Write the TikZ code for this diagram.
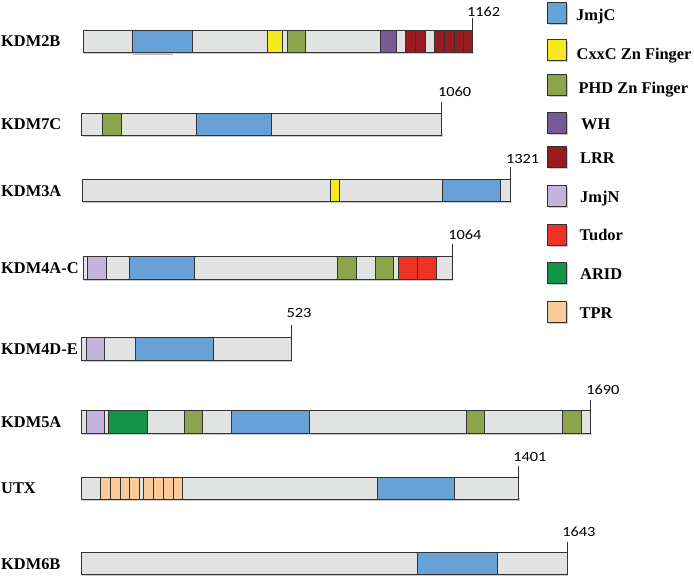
\documentclass[tikz,border=0pt]{standalone}
\usepackage{fontspec}
\setmainfont{Liberation Serif}
\newfontfamily\numfont{Carlito}[FakeStretch=1.17]
\definecolor{edge}{HTML}{333333}
\definecolor{barfill}{HTML}{E1E3E3}
\definecolor{cJmjC}{HTML}{67A1D8}
\definecolor{cCxxC}{HTML}{F4EA1F}
\definecolor{cPHD}{HTML}{8CA54C}
\definecolor{cWH}{HTML}{775B97}
\definecolor{cLRR}{HTML}{991B20}
\definecolor{cJmjN}{HTML}{C2B4DA}
\definecolor{cTudor}{HTML}{EE3225}
\definecolor{cARID}{HTML}{119449}
\definecolor{cTPR}{HTML}{FBCA9A}
\newcommand\pbar[4]{\def\btop{#3}\def\bbot{#4}%
  \fill[black!20] (#1+1,#4-1) rectangle (#2+1.2,#4+1.6);
  \draw[protbar] (#1,#3) rectangle (#2,#4);}
\newcommand\pdom[3]{\draw[seg,fill=#1] (#2,\btop) rectangle (#3,\bbot);}
\begin{document}
\begin{tikzpicture}[x=1pt,y=-1pt,
  seg/.style={draw=edge,line width=0.9pt},
  protbar/.style={seg,fill=barfill},
  protname/.style={font=\bfseries\fontsize{16.4}{18}\selectfont,anchor=base west,inner sep=0pt},
  legtext/.style={font=\bfseries\fontsize{16.4}{18}\selectfont,anchor=base west,inner sep=0pt},
  lenlabel/.style={font=\numfont\fontsize{14}{16}\selectfont,anchor=base west,inner sep=0pt},
  tickline/.style={draw=edge,line width=0.9pt},
  legbox/.style={draw=edge,line width=0.9pt}
]
\useasboundingbox[fill=white] (0,0) rectangle (694,581);

% ---------- KDM2B ----------
\node[protname] (n1) at (1,46.8) {KDM2B};
\draw[black!30,line width=1pt] (133,54.2) -- (173,54.2);
\pbar{83.3}{472.7}{30}{52.7}
\pdom{cJmjC}{132.7}{192}
\pdom{cCxxC}{267.7}{282.3}
\pdom{cPHD}{287.3}{305}
\pdom{cWH}{380.3}{396}
\pdom{cLRR}{405}{415.7}
\pdom{cLRR}{415.7}{425.7}
\pdom{cLRR}{434}{444}
\pdom{cLRR}{444}{454}
\pdom{cLRR}{454}{463.3}
\pdom{cLRR}{463.3}{472.7}
\coordinate (t1) at (472.7,18.3);
\coordinate (e1) at (472.7,30);
\draw[tickline] (t1) -- (e1);
\node[lenlabel] (l1) at (466.8,16) {1162};

% ---------- KDM7C ----------
\node[protname] (n2) at (1,129.6) {KDM7C};
\pbar{81.7}{441.7}{113.3}{135}
\pdom{cPHD}{102.3}{121.3}
\pdom{cJmjC}{196.3}{271}
\coordinate (t2) at (441.7,101.7);
\coordinate (e2) at (441.7,113.3);
\draw[tickline] (t2) -- (e2);
\node[lenlabel] (l2) at (437.8,96) {1060};

% ---------- KDM3A ----------
\node[protname] (n3) at (1,196.4) {KDM3A};
\pbar{82.3}{510.7}{179}{201.7}
\pdom{cCxxC}{330}{339.3}
\pdom{cJmjC}{442}{500.7}
\coordinate (t3) at (510.7,167.3);
\coordinate (e3) at (510.7,179);
\draw[tickline] (t3) -- (e3);
\node[lenlabel] (l3) at (505.8,163.3) {1321};

% ---------- KDM4A-C ----------
\node[protname] (n4) at (1,273.6) {KDM4A-C};
\pbar{83.3}{452}{256.7}{279}
\pdom{cJmjN}{87.3}{106.7}
\pdom{cJmjC}{129.3}{194.3}
\pdom{cPHD}{337.3}{356.3}
\pdom{cPHD}{375.3}{393.7}
\pdom{cTudor}{398.3}{417.3}
\pdom{cTudor}{417.3}{436}
\coordinate (t4) at (452,244.3);
\coordinate (e4) at (452,256.7);
\draw[tickline] (t4) -- (e4);
\node[lenlabel] (l4) at (448.1,239.3) {1064};

% ---------- KDM4D-E ----------
\node[protname] (n5) at (1,354.6) {KDM4D-E};
\pbar{81.7}{291}{337.7}{360.3}
\pdom{cJmjN}{86}{104.3}
\pdom{cJmjC}{135.3}{213.3}
\coordinate (t5) at (291,325);
\coordinate (e5) at (291,337.7);
\draw[tickline] (t5) -- (e5);
\node[lenlabel] (l5) at (286.4,317.3) {523};

% ---------- KDM5A ----------
\node[protname] (n6) at (1,427.7) {KDM5A};
\pbar{81}{590.7}{410.7}{433.7}
\pdom{cJmjN}{86}{104.3}
\pdom{cARID}{108.7}{147.3}
\pdom{cPHD}{184}{202.3}
\pdom{cJmjC}{231.7}{309.3}
\pdom{cPHD}{466}{484.7}
\pdom{cPHD}{562.7}{581.7}
\coordinate (t6) at (590.7,400);
\coordinate (e6) at (590.7,410.7);
\draw[tickline] (t6) -- (e6);
\node[lenlabel] (l6) at (586.1,394) {1690};

% ---------- UTX ----------
\node[protname] (n7) at (1,493.8) {UTX};
\pbar{81}{518.3}{477.3}{499.3}
\foreach \a/\b in {100.3/110.3,110.3/120,120/129.7,129.7/139.3,143.7/153.7,153.7/163.3,163.3/173,173/182.3}
  {\pdom{cTPR}{\a}{\b}}
\pdom{cJmjC}{377.3}{454.7}
\coordinate (t7) at (518.3,466.3);
\coordinate (e7) at (518.3,477.3);
\draw[tickline] (t7) -- (e7);
\node[lenlabel] (l7) at (513.1,461.7) {1401};

% ---------- KDM6B ----------
\node[protname] (n8) at (1,569) {KDM6B};
\pbar{81}{567}{552.3}{574.7}
\pdom{cJmjC}{417.3}{497.3}
\coordinate (t8) at (567,541.7);
\coordinate (e8) at (567,552.3);
\draw[tickline] (t8) -- (e8);
\node[lenlabel] (l8) at (562.1,536.7) {1643};

% ---------- legend ----------
\foreach \c/\t/\y/\bl/\tx [count=\i] in {
  cJmjC/JmjC/2.7/20/576,
  cCxxC/CxxC Zn Finger/39.3/59.3/576.5,
  cPHD/PHD Zn Finger/74/93.3/578.5,
  cWH/WH/112.3/129.3/581,
  cLRR/LRR/146.7/163.3/580,
  cJmjN/JmjN/185.7/202.7/580,
  cTudor/Tudor/224/240/579.5,
  cARID/ARID/262.3/279/580,
  cTPR/TPR/301/318.3/579.5}{
  \fill[black!20] (548.5,\y+1.5) rectangle +(19.4,21);
  \draw[legbox,fill=\c] (547.3,\y) rectangle +(19.4,21);
  \node[legtext] (leg\i) at (\tx,\bl) {\t};
}
\end{tikzpicture}
\end{document}
